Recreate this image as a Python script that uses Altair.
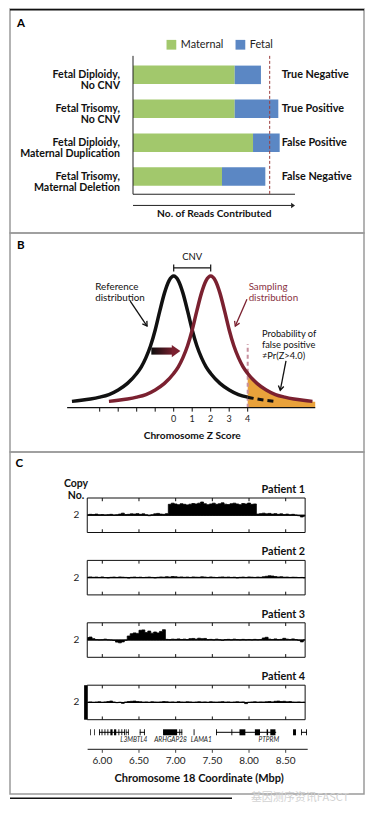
import altair as alt
import pandas as pd

FONT = "Lato"
W = 354
HA, HB, HC = 224, 219, 342

# ================= Panel A data =================
case_labels = ["Fetal Diploidy,\nNo CNV", "Fetal Trisomy,\nNo CNV",
               "Fetal Diploidy,\nMaternal Duplication", "Fetal Trisomy,\nMaternal Deletion"]
outcome_labels = ["True Negative", "True Positive", "False Positive", "False Negative"]
maternal_reads = [74.4, 74.4, 87.8, 65.1]
fetal_reads = [19.2, 31.9, 19.5, 31.7]
read_threshold = 100
components = ["Maternal", "Fetal"]
component_colors = ["#a2c86c", "#5b87c4"]

# ================= Panel B data =================
ref_z = [-5.5, -5, -4.5, -4, -3.5, -3, -2.5, -2, -1.75, -1.5, -1.25, -1, -0.75, -0.5, -0.25,
         0, 0.25, 0.5, 0.75, 1, 1.25, 1.5, 1.75, 2, 2.5, 3, 3.5, 4]
ref_h = [0.048, 0.056, 0.066, 0.08, 0.1, 0.135, 0.185, 0.26, 0.31, 0.38, 0.47, 0.59, 0.735, 0.87, 0.965,
         1.0, 0.965, 0.87, 0.735, 0.59, 0.47, 0.38, 0.31, 0.26, 0.185, 0.135, 0.1, 0.08]
ref_tail_z = [4.0, 4.5, 5.0, 5.5]
ref_tail_h = [0.08, 0.066, 0.056, 0.048]
samp_z = [-3.5, -3, -2.5, -2, -1.5, -1, -0.5, 0, 0.25, 0.5, 0.75, 1, 1.25, 1.5, 1.75, 2,
          2.25, 2.5, 2.75, 3, 3.25, 3.5, 3.75, 4, 4.5, 5, 5.5, 6, 6.5, 7, 7.5]
samp_h = [0.048, 0.056, 0.066, 0.08, 0.1, 0.135, 0.185, 0.26, 0.31, 0.38, 0.47, 0.59, 0.735, 0.87, 0.965, 1.0,
          0.965, 0.87, 0.735, 0.59, 0.47, 0.38, 0.31, 0.26, 0.185, 0.135, 0.1, 0.08, 0.066, 0.056, 0.048]
fp_z = [4.0, 4.5, 5.0, 5.5, 6.0, 6.5, 7.0, 7.5, 7.65]
fp_h = [0.26, 0.185, 0.135, 0.1, 0.08, 0.066, 0.056, 0.048, 0.046]
z_ticks = [-4, -3, -2, -1, 0, 1, 2, 3, 4]
z_tick_labels = [0, 1, 2, 3, 4]
z_threshold = 4.0
cnv_from, cnv_to = 0, 2

# ================= Panel C data =================
bin_start, bin_step = 5.80, 0.04
p1_cn = [2.05, 2.08, 2.06, 2.10, 2.04, 2.06, 2.03, 2.05, 2.08, 2.02,
         2.04, 2.10, 2.18, 2.06, 2.08, 2.12, 2.10, 2.14, 2.08, 2.12,
         2.04, 1.96, 2.04, 2.12, 2.16, 2.10, 2.08, 2.14, 2.95, 3.05,
         2.98, 2.92, 3.00, 2.95, 2.90, 2.96, 3.02, 2.98, 3.05, 3.15,
         3.00, 2.92, 2.98, 3.05, 2.95, 3.00, 3.08, 2.96, 2.93, 3.00,
         3.05, 2.98, 2.92, 3.02, 2.98, 3.06, 2.95, 2.98, 2.10, 2.14,
         2.18, 2.12, 2.16, 2.10, 2.14, 2.08, 2.12, 2.06, 2.10, 2.04,
         2.08, 2.02, 1.96, 1.85, 1.92]
p2_cn = [2.04, 2.06, 2.03, 2.05, 2.02, 2.06, 2.01, 1.98, 2.03, 2.05,
         2.02, 2.06, 2.04, 2.02, 1.97, 2.03, 2.05, 2.02, 2.04, 2.01,
         2.03, 2.05, 2.02, 1.98, 2.03, 2.06, 2.04, 2.08, 2.05, 2.10,
         2.08, 2.04, 2.06, 2.03, 2.05, 2.02, 2.06, 2.04, 2.03, 2.07,
         2.05, 2.02, 2.06, 2.03, 2.01, 2.04, 2.06, 2.03, 2.05, 2.02,
         2.04, 1.98, 2.03, 2.05, 2.02, 2.06, 2.04, 2.02, 2.05, 2.03,
         2.08, 2.12, 2.16, 2.14, 2.10, 2.06, 2.08, 2.04, 2.05, 2.02,
         2.04, 2.03, 2.01, 2.02, 1.98]
p3_cn = [2.22, 2.26, 2.12, 2.04, 2.02, 2.03, 2.08, 2.02, 2.00, 1.96,
         1.82, 1.76, 1.84, 1.98, 2.35, 2.55, 2.62, 2.58, 2.85, 2.88,
         2.65, 2.78, 2.60, 2.70, 2.62, 2.75, 2.90, 2.06, 2.04, 2.08,
         2.06, 2.10, 2.05, 2.08, 2.04, 2.12, 2.14, 2.08, 2.16, 2.12,
         2.14, 2.04, 2.06, 2.02, 2.08, 2.03, 1.98, 2.04, 2.06, 2.02,
         2.08, 2.04, 2.02, 2.06, 2.03, 2.05, 2.02, 2.06, 2.03, 2.05,
         2.18, 2.24, 2.08, 2.05, 2.10, 2.04, 2.06, 2.15, 2.08, 2.05,
         2.10, 2.04, 1.98, 1.84, 2.02]
p4_cn = [2.03, 2.05, 2.02, 2.04, 2.06, 2.02, 2.05, 2.08, 2.12, 2.04,
         1.98, 2.02, 1.92, 2.04, 2.08, 2.10, 2.12, 2.08, 2.06, 2.03,
         2.05, 2.02, 2.06, 2.04, 2.03, 2.05, 2.08, 2.06, 2.03, 2.05,
         2.02, 2.07, 2.04, 2.03, 2.06, 2.05, 2.02, 2.04, 2.06, 2.03,
         2.05, 2.02, 2.06, 2.04, 2.03, 2.05, 2.07, 2.03, 2.05, 2.02,
         2.04, 2.06, 2.03, 2.05, 1.90, 2.02, 2.04, 2.06, 2.03, 2.05,
         2.04, 2.06, 2.08, 2.05, 2.10, 2.12, 2.08, 2.10, 2.06, 2.08,
         2.04, 2.03, 2.05, 2.02, 2.04]
patient_names = ["Patient 1", "Patient 2", "Patient 3", "Patient 4"]
patient_cn = [p1_cn, p2_cn, p3_cn, p4_cn]
region_start, region_end = 5.795, 8.765
mbp_ticks = [6.0, 6.5, 7.0, 7.5, 8.0, 8.5]
gene_line_start = [5.955, 6.32, 6.51, 6.828, 7.55, 8.71]
gene_line_end = [6.31, 6.36, 6.58, 7.09, 8.37, 8.79]
exon_start = [5.835, 5.89, 5.955, 5.99, 6.03, 6.07, 6.11, 6.16, 6.22, 6.26, 6.298, 6.32, 6.35,
              6.51, 6.568, 6.828, 7.05, 7.078, 7.245, 7.55, 7.76, 7.87, 8.08, 8.24, 8.29,
              8.60, 8.71, 8.778]
exon_end = [5.845, 5.90, 5.967, 6.002, 6.042, 6.082, 6.14, 6.19, 6.232, 6.272, 6.31, 6.33, 6.36,
            6.522, 6.58, 7.02, 7.062, 7.09, 7.257, 7.562, 7.772, 7.95, 8.15, 8.26, 8.36,
            8.64, 8.722, 8.79]
gene_names = ["L3MBTL4", "ARHGAP28", "LAMA1", "PTPRM"]
gene_name_pos = [6.43, 6.93, 7.35, 8.27]


# ================= helpers =================
def lin_scale(v0, px0, v1, px1, size, axis):
    """Scale whose domain makes v0 land at pixel px0 and v1 at px1 (from left / top)."""
    k = (px1 - px0) / (v1 - v0)
    a = v0 - px0 / k
    b = v0 + (size - px0) / k
    if axis == "x":
        if a < b:
            return alt.Scale(domain=[a, b], nice=False, zero=False)
        return alt.Scale(domain=[b, a], reverse=True, nice=False, zero=False)
    if b < a:
        return alt.Scale(domain=[b, a], nice=False, zero=False)
    return alt.Scale(domain=[a, b], reverse=True, nice=False, zero=False)


def enc_xy(df, xs, ys):
    e = dict(x=alt.X("x:Q", scale=xs, axis=None), y=alt.Y("y:Q", scale=ys, axis=None))
    if "x2" in df.columns:
        e["x2"] = alt.X2("x2:Q")
    if "y2" in df.columns:
        e["y2"] = alt.Y2("y2:Q")
    return e


def rule(df, xs, ys, **kw):
    return alt.Chart(df).mark_rule(**kw).encode(**enc_xy(df, xs, ys))


def rect(df, xs, ys, **kw):
    return alt.Chart(df).mark_rect(**kw).encode(**enc_xy(df, xs, ys))


def text(df, xs, ys, **kw):
    kw.setdefault("font", FONT)
    return alt.Chart(df).mark_text(**kw).encode(text="t:N", **enc_xy(df, xs, ys))


def fixed_text(t, x, y, **kw):
    kw.setdefault("font", FONT)
    return alt.Chart(pd.DataFrame({"t": [t]})).mark_text(**kw).encode(
        x=alt.value(x), y=alt.value(y), text="t:N")


def head(x, y, xs, ys, angle, size, color, filled=True):
    shape = "M-1,-1.4L0,0L1,-1.4Z" if filled else "M-1,-1.6L0,0L1,-1.6"
    df = pd.DataFrame({"x": [x], "y": [y]})
    return alt.Chart(df).mark_point(shape=shape, angle=angle, size=size, filled=filled,
                                    color=color, opacity=1, strokeWidth=1.3).encode(**enc_xy(df, xs, ys))


# ================= Panel A =================
xsA = lin_scale(0, 123, read_threshold, 259.7, W, "x")
ysA = lin_scale(0, 63.7, 3, 170.2, HA, "y")
rows = list(range(len(case_labels)))

bars_df = pd.DataFrame({
    "row": rows * 2,
    "comp": ["Maternal"] * 4 + ["Fetal"] * 4,
    "reads": maternal_reads + fetal_reads,
    "ord": [0] * 4 + [1] * 4,
})
bars = alt.Chart(bars_df).mark_bar(orient="horizontal", size=18.5).encode(
    x=alt.X("reads:Q", stack="zero", scale=xsA, axis=None),
    y=alt.Y("row:Q", scale=ysA, axis=None),
    color=alt.Color("comp:N", scale=alt.Scale(domain=components, range=component_colors),
                    legend=alt.Legend(orient="none", legendX=156, legendY=30, direction="horizontal",
                                      title=None, symbolType="square", symbolSize=95,
                                      symbolStrokeWidth=0, labelFont=FONT, labelFontSize=10.8,
                                      labelColor="#222", columnPadding=11, labelOffset=4, padding=0)),
    order=alt.Order("ord:Q"),
)
left_lab = text(pd.DataFrame({"x": [0] * 4, "y": rows, "t": case_labels}), xsA, ysA,
                align="right", baseline="middle", dx=-13, lineBreak="\n", lineHeight=11.5,
                fontSize=10.6, fontWeight="bold", color="#111")
right_lab = text(pd.DataFrame({"x": [read_threshold] * 4, "y": rows, "t": outcome_labels}), xsA, ysA,
                 align="left", baseline="middle", dx=12, fontSize=10.8, fontWeight="bold", color="#111")
a_vaxis = rule(pd.DataFrame({"x": [0], "y": [-0.56], "y2": [3.52]}), xsA, ysA, color="#222", strokeWidth=1)
a_haxis = rule(pd.DataFrame({"x": [0], "x2": [118.5], "y": [3.52]}), xsA, ysA, color="#222", strokeWidth=1)
a_thr = rule(pd.DataFrame({"x": [read_threshold], "y": [-0.56], "y2": [3.52]}), xsA, ysA,
             color="#9b3b3b", strokeWidth=1, strokeDash=[3, 2])
a_arrow = rule(pd.DataFrame({"x": [0], "x2": [116], "y": [3.85]}), xsA, ysA, color="#222", strokeWidth=1)
a_head = head(118.5, 3.85, xsA, ysA, 270, 30, "#222")
a_title = text(pd.DataFrame({"x": [59.5], "y": [4.09], "t": ["No. of Reads Contributed"]}), xsA, ysA,
               fontSize=10.2, fontWeight="bold", color="#111")
a_letter = fixed_text("A", 7, 15, align="left", baseline="middle", fontSize=11.5, fontWeight="bold")
top_line = alt.Chart(pd.DataFrame({"a": [0]})).mark_rule(color="#111", strokeWidth=1.6).encode(
    x=alt.value(0), x2=alt.value(W), y=alt.value(0.8))

panelA = alt.layer(bars, a_vaxis, a_haxis, a_thr, a_arrow, a_head, left_lab, right_lab,
                   a_title, a_letter, top_line).properties(width=W, height=HA)

# ================= Panel B =================
xsB = lin_scale(0, 163.7, 4, 237.7, W, "x")
ysB = lin_scale(0, 174.7, 1, 43, HB, "y")
RED = "#7b2130"


def curve(zs, hs, **kw):
    df = pd.DataFrame({"x": zs, "y": hs})
    return alt.Chart(df).mark_line(interpolate="monotone", **kw).encode(**enc_xy(df, xsB, ysB))


fp_df = pd.DataFrame({"x": fp_z, "y": fp_h})
fp_area = alt.Chart(fp_df).mark_area(interpolate="monotone", color="#e9a23b", opacity=1).encode(
    x=alt.X("x:Q", scale=xsB, axis=None), y=alt.Y("y:Q", scale=ysB, axis=None), y2=alt.datum(0))
b_axis = rule(pd.DataFrame({"x": [-5.76], "x2": [7.65], "y": [0]}), xsB, ysB, color="#111", strokeWidth=1.2)
b_ticks = rule(pd.DataFrame({"x": z_ticks, "y": [0] * len(z_ticks), "y2": [-0.03] * len(z_ticks)}),
               xsB, ysB, color="#111", strokeWidth=1)
b_tlab = text(pd.DataFrame({"x": z_tick_labels, "y": [-0.086] * 5, "t": [str(v) for v in z_tick_labels]}),
              xsB, ysB, fontSize=9, color="#222", baseline="middle")
b_title = text(pd.DataFrame({"x": [1.0], "y": [-0.215], "t": ["Chromosome Z Score"]}), xsB, ysB,
               fontSize=10.2, fontWeight="bold", color="#111", baseline="middle")
thr_line = rule(pd.DataFrame({"x": [z_threshold], "y": [0], "y2": [0.483]}), xsB, ysB,
                color="#c8919f", strokeWidth=2, strokeDash=[4, 3])
ref_curve = curve(ref_z, ref_h, color="#111", strokeWidth=3.5)
ref_tail = curve(ref_tail_z, ref_tail_h, color="#111", strokeWidth=3, strokeDash=[6, 4])
samp_curve = curve(samp_z, samp_h, color=RED, strokeWidth=3.5)
cnv_bar = rule(pd.DataFrame({"x": [cnv_from], "x2": [cnv_to], "y": [1.061]}), xsB, ysB,
               color="#111", strokeWidth=1.2)
cnv_ends = rule(pd.DataFrame({"x": [cnv_from, cnv_to], "y": [1.034] * 2, "y2": [1.088] * 2}), xsB, ysB,
                color="#111", strokeWidth=1.2)
cnv_txt = text(pd.DataFrame({"x": [1.0], "y": [1.11], "t": ["CNV"]}), xsB, ysB, fontSize=9.5,
               color="#111", baseline="bottom")
ref_txt = text(pd.DataFrame({"x": [-4.24], "y": [0.92], "t": ["Reference\ndistribution"]}), xsB, ysB,
               align="left", baseline="middle", lineBreak="\n", lineHeight=11.5, fontSize=9.8, color="#111")
samp_txt = text(pd.DataFrame({"x": [4.05], "y": [0.92], "t": ["Sampling\ndistribution"]}), xsB, ysB,
                align="left", baseline="middle", lineBreak="\n", lineHeight=11.5, fontSize=9.8, color="#8a3343")
prob_txt = text(pd.DataFrame({"x": [4.77], "y": [0.56], "t": ["Probability of\nfalse positive\n≠Pr(Z>4.0)"]}),
                xsB, ysB, align="left", baseline="middle", lineBreak="\n", lineHeight=11, fontSize=9.3,
                color="#111")
ref_arr = rule(pd.DataFrame({"x": [-2.35], "y": [0.81], "x2": [-1.44], "y2": [0.62]}), xsB, ysB,
               color="#111", strokeWidth=1.3)
ref_head = head(-1.44, 0.62, xsB, ysB, 326, 30, "#111", filled=False)
samp_arr = rule(pd.DataFrame({"x": [3.96], "y": [0.823], "x2": [3.33], "y2": [0.62]}), xsB, ysB,
                color=RED, strokeWidth=1.3)
samp_head = head(3.33, 0.62, xsB, ysB, 24, 30, RED, filled=False)
prob_arr = rule(pd.DataFrame({"x": [6.07], "y": [0.355], "x2": [5.76], "y2": [0.132]}), xsB, ysB,
                color="#111", strokeWidth=1.3)
prob_head = head(5.76, 0.132, xsB, ysB, 11, 30, "#111", filled=False)
shift_df = pd.DataFrame({"x": [-1.21], "x2": [0.0], "y": [0.403], "y2": [0.457]})
shift_body = alt.Chart(shift_df).mark_rect(
    fill=alt.Gradient(gradient="linear", x1=0, x2=1, y1=0, y2=0,
                      stops=[alt.GradientStop(color="#0d0d0d", offset=0),
                             alt.GradientStop(color=RED, offset=1)])
).encode(**enc_xy(shift_df, xsB, ysB))
shift_head = head(0.36, 0.43, xsB, ysB, 270, 150, RED)
b_letter = fixed_text("B", 7, 13, align="left", baseline="middle", fontSize=11.5, fontWeight="bold")

panelB = alt.layer(fp_area, thr_line, b_axis, b_ticks, b_tlab, b_title, ref_curve, ref_tail, samp_curve,
                   cnv_bar, cnv_ends, cnv_txt, ref_txt, samp_txt, prob_txt, ref_arr, ref_head,
                   samp_arr, samp_head, prob_arr, prob_head, shift_body, shift_head,
                   b_letter).properties(width=W, height=HB)

# ================= Panel C =================
xsC = lin_scale(6.0, 92.3, 8.5, 275.7, W, "x")
P_TOP0, P_STEP, BOX_H = 46.0, 62.4, 34.5


def patient_layer(i):
    top = P_TOP0 + P_STEP * i
    ys = lin_scale(0.5, top + BOX_H, 3.5, top, HC, "y")
    cn = patient_cn[i]
    tr = pd.DataFrame({"x": [round(bin_start + bin_step * j, 3) for j in range(len(cn))], "y": cn})
    trace = alt.Chart(tr).mark_area(interpolate="step", color="#000", stroke="#000", strokeWidth=0.8).encode(
        x=alt.X("x:Q", scale=xsC, axis=None), y=alt.Y("y:Q", scale=ys, axis=None), y2=alt.datum(2))
    base = rule(pd.DataFrame({"x": [region_start], "x2": [region_end], "y": [2]}), xsC, ys,
                color="#000", strokeWidth=1.1)
    box = rect(pd.DataFrame({"x": [region_start], "x2": [region_end], "y": [0.5], "y2": [3.5]}), xsC, ys,
               fillOpacity=0, stroke="#111", strokeWidth=1)
    n = len(mbp_ticks)
    tk_top = rule(pd.DataFrame({"x": mbp_ticks, "y": [3.5] * n, "y2": [3.22] * n}), xsC, ys,
                  color="#111", strokeWidth=1)
    tk_bot = rule(pd.DataFrame({"x": mbp_ticks, "y": [0.5] * n, "y2": [0.78] * n}), xsC, ys,
                  color="#111", strokeWidth=1)
    lab2 = text(pd.DataFrame({"x": [region_start], "y": [2], "t": ["2"]}), xsC, ys, align="right",
                baseline="middle", dx=-8, fontSize=10, color="#222")
    ttl = text(pd.DataFrame({"x": [region_end], "y": [3.5], "t": [patient_names[i]]}), xsC, ys,
               align="right", baseline="middle", dy=-8, fontSize=10.8, fontWeight="bold", color="#111")
    parts = [trace, base, box, tk_top, tk_bot, lab2, ttl]
    if i == 3:
        parts.append(rect(pd.DataFrame({"x": [5.752], "x2": [region_start], "y": [0.5], "y2": [3.5]}),
                          xsC, ys, color="#000"))
    return alt.layer(*parts)


ysG = lin_scale(0, 280.3, 10, 270.3, HC, "y")
g_lines = rule(pd.DataFrame({"x": gene_line_start, "x2": gene_line_end, "y": [0] * len(gene_line_start)}),
               xsC, ysG, color="#000", strokeWidth=1)
g_exons = rect(pd.DataFrame({"x": exon_start, "x2": exon_end, "y": [-3] * len(exon_start),
                             "y2": [3] * len(exon_start)}), xsC, ysG, color="#000")
g_names = text(pd.DataFrame({"x": gene_name_pos, "y": [-8] * 4, "t": gene_names}), xsC, ysG,
               fontSize=6.6, fontStyle="italic", color="#222", baseline="middle")
c_axis = rule(pd.DataFrame({"x": [5.8], "x2": [8.8], "y": [-17]}), xsC, ysG, color="#444", strokeWidth=1.2)
c_ticks = rule(pd.DataFrame({"x": mbp_ticks, "y": [-17] * 6, "y2": [-20.5] * 6}), xsC, ysG,
               color="#444", strokeWidth=1)
c_tlab = text(pd.DataFrame({"x": mbp_ticks, "y": [-28.3] * 6, "t": [f"{v:.2f}" for v in mbp_ticks]}),
              xsC, ysG, fontSize=10, color="#222", baseline="middle")
c_title = text(pd.DataFrame({"x": [7.32], "y": [-46.4], "t": ["Chromosome 18 Coordinate (Mbp)"]}), xsC, ysG,
               fontSize=11, fontWeight="bold", color="#111", baseline="middle")
genes = alt.layer(g_lines, g_exons, g_names, c_axis, c_ticks, c_tlab, c_title)

c_letter = fixed_text("C", 5.5, 12, align="left", baseline="middle", fontSize=11.5, fontWeight="bold")
copy_no = fixed_text("Copy\nNo.", 66, 32, align="center", baseline="middle", lineBreak="\n",
                     lineHeight=12, fontSize=10.5, fontWeight="bold", color="#111")
bottom_line = alt.Chart(pd.DataFrame({"a": [0]})).mark_rule(color="#111", strokeWidth=1.6).encode(
    x=alt.value(0), x2=alt.value(222), y=alt.value(346.3))
watermark = fixed_text("基因测序资讯FASCT", 290, 346, align="center", baseline="middle", fontSize=11,
                       color="#d2d2d2", font="Noto Sans CJK SC")

panelC = alt.layer(c_letter, copy_no, patient_layer(0), patient_layer(1), patient_layer(2),
                   patient_layer(3), genes, bottom_line, watermark).resolve_scale(
    y="independent").properties(width=W, height=HC)

chart = alt.vconcat(panelA, panelB, panelC, spacing=0, bounds="flush").properties(
    padding=0, background="white").configure_view(stroke="#9a9a9a", strokeWidth=1.5)

chart.save("out.html", embed_options={"renderer": "svg", "actions": False})
